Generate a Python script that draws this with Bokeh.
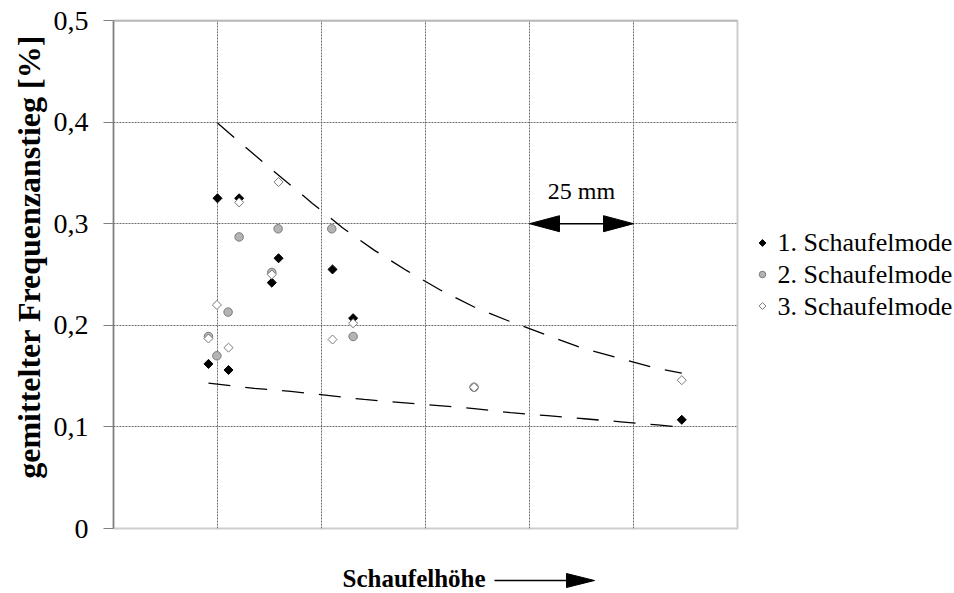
from bokeh.plotting import figure
from bokeh.layouts import row, column
from bokeh.models import Range1d, FixedTicker, Span
from bokeh.core.properties import value
from bokeh.embed import file_html
from bokeh.resources import INLINE
import math

# ---------------- data ----------------
mode1_x = [0.913, 1.000, 1.106, 1.208, 1.522, 1.587, 2.106, 2.304, 5.464]
mode1_y = [0.162, 0.325, 0.156, 0.325, 0.242, 0.266, 0.255, 0.207, 0.107]

mode2_x = [0.913, 0.994, 1.102, 1.208, 1.522, 1.583, 2.099, 2.304, 3.467]
mode2_y = [0.189, 0.170, 0.213, 0.287, 0.252, 0.295, 0.295, 0.189, 0.139]

mode3_x = [0.913, 0.994, 1.106, 1.208, 1.522, 1.587, 2.106, 2.304, 3.467, 5.464]
mode3_y = [0.187, 0.220, 0.178, 0.321, 0.250, 0.341, 0.186, 0.202, 0.139, 0.146]

upper_x = [1.000, 1.352, 1.631, 1.913, 2.202, 2.506, 2.817, 3.138, 3.468, 3.806,
           4.150, 4.493, 4.846, 5.208, 5.464]
upper_y = [0.399, 0.368, 0.344, 0.320, 0.296, 0.274, 0.254, 0.235, 0.218, 0.204,
           0.191, 0.178, 0.168, 0.158, 0.153]

lower_x = [0.913, 1.352, 1.705, 2.058, 2.410, 3.467, 3.820, 4.173, 4.526, 4.878,
           5.231, 5.481]
lower_y = [0.143, 0.138, 0.135, 0.131, 0.127, 0.118, 0.114, 0.111, 0.108, 0.105,
           0.102, 0.0995]

series_names = ["1. Schaufelmode", "2. Schaufelmode", "3. Schaufelmode"]
ytick_values = [0, 0.1, 0.2, 0.3, 0.4, 0.5]
ytick_labels = ["0", "0,1", "0,2", "0,3", "0,4", "0,5"]
xgrid_values = [1, 2, 3, 4, 5]
ygrid_values = [0.1, 0.2, 0.3, 0.4]

y_title = "gemittelter Frequenzanstieg [%]"
x_title = "Schaufelhöhe"
dim_text = "25 mm"

FONT = "Liberation Serif"
XPX = 104.0      # pixels per x unit
YPX = 1015.4     # pixels per y unit

# layout sizes (pixels)
W_TOTAL, H_TOTAL = 954, 593
W_LEFT = 50          # y-title strip
H_MAIN = 548         # main row height
W_MAIN = 689         # main plot figure
W_LEG = W_TOTAL - W_LEFT - W_MAIN
H_BOTTOM = H_TOTAL - H_MAIN
LEG_X0 = W_LEFT + W_MAIN   # page x where the legend strip starts


def blank(width, height, xr, yr):
    f = figure(width=width, height=height, output_backend="svg", toolbar_location=None,
               x_range=Range1d(*xr), y_range=Range1d(*yr),
               min_border_left=0, min_border_right=0, min_border_top=0, min_border_bottom=0)
    f.axis.visible = False
    f.grid.visible = False
    f.outline_line_color = None
    return f


# ---------------- main plot ----------------
p = figure(width=W_MAIN, height=H_MAIN, output_backend="svg", toolbar_location=None,
           x_range=Range1d(0, 6), y_range=Range1d(0, 0.5),
           min_border_left=113 - W_LEFT, min_border_right=2,
           min_border_top=20, min_border_bottom=H_MAIN - 528)
p.outline_line_color = "#cdcdcd"
p.outline_line_width = 2

p.yaxis.ticker = FixedTicker(ticks=ytick_values)
p.yaxis.major_label_overrides = {v: s for v, s in zip(ytick_values, ytick_labels)}
p.yaxis.axis_line_color = "#808080"
p.yaxis.axis_line_width = 1.5
p.yaxis.major_tick_line_color = "#808080"
p.yaxis.major_tick_out = 10
p.yaxis.major_tick_in = 0
p.yaxis.minor_tick_line_color = None
p.yaxis.major_label_text_font = FONT
p.yaxis.major_label_text_font_size = "28px"
p.yaxis.major_label_text_color = "black"
p.yaxis.major_label_standoff = 15
p.xaxis.visible = False

p.xgrid.ticker = FixedTicker(ticks=xgrid_values)
p.ygrid.ticker = FixedTicker(ticks=ygrid_values)
for g in (p.xgrid, p.ygrid):
    g.grid_line_color = "#6e6e6e"
    g.grid_line_dash = "2 1"
    g.grid_line_width = 1

p.add_layout(Span(location=0.5, dimension="width", line_color="#a8a8a8", line_width=2))

# trend lines
p.line(upper_x, upper_y, line_color="black", line_width=1.3, line_dash="22 15")
p.line(lower_x, lower_y, line_color="black", line_width=1.3, line_dash="22 15")

# series
marker_styles = [
    dict(marker="square", angle=math.pi / 4, fill_color="black",
         line_color="black", line_width=1),
    dict(marker="circle", fill_color="#b4b4b4", line_color="#7a7a7a",
         line_width=1),
    dict(marker="square", angle=math.pi / 4, fill_color="white",
         line_color="#7a7a7a", line_width=1),
]
plot_sizes = [6.4, 8.5, 6.4]
legend_sizes = [4.8, 6.5, 4.8]
p.scatter(mode1_x, mode1_y, size=plot_sizes[0], **marker_styles[0])
p.scatter(mode2_x, mode2_y, size=plot_sizes[1], **marker_styles[1])
p.scatter(mode3_x, mode3_y, size=plot_sizes[2], **marker_styles[2])

# 25 mm dimension arrow between gridlines 4 and 5
ya = 0.3
hl = 30 / XPX
hh = 8 / YPX
p.segment(x0=[4 + hl], y0=[ya], x1=[5 - hl], y1=[ya], line_color="black", line_width=1.5)
p.patches(xs=[[4, 4 + hl, 4 + hl], [5, 5 - hl, 5 - hl]],
          ys=[[ya, ya + hh, ya - hh], [ya, ya + hh, ya - hh]],
          fill_color="black", line_color="black")
p.text(x=[4.5], y=[0.3326], text=[dim_text], text_align="center", text_baseline="middle",
       text_font=value(FONT), text_font_size="24px", text_color="black")

# ---------------- y-title strip ----------------
pl = blank(W_LEFT, H_MAIN, (0, W_LEFT), (0, H_MAIN))
pl.text(x=[28], y=[H_MAIN - 255], text=[y_title], angle=math.pi / 2,
        text_align="center", text_baseline="middle", text_font=value(FONT),
        text_font_style="bold", text_font_size="32px", text_color="black")

# ---------------- legend strip (key drawn in pixel space) ----------------
pr = blank(W_LEG, H_MAIN, (0, W_LEG), (0, H_MAIN))
leg_rows_page_y = [240, 274, 308]
for name, st, sz, py in zip(series_names, marker_styles, legend_sizes, leg_rows_page_y):
    pr.scatter(x=[762 - LEG_X0], y=[H_MAIN - py], size=sz, **st)
    pr.text(x=[777 - LEG_X0], y=[H_MAIN - py], text=[name], text_align="left",
            text_baseline="middle", text_font=value(FONT), text_font_size="26px",
            text_color="black")

# ---------------- x-title strip ----------------
pb = blank(W_TOTAL, H_BOTTOM, (0, W_TOTAL), (0, H_BOTTOM))
pb.text(x=[342], y=[H_TOTAL - 578], text=[x_title], text_align="left",
        text_baseline="middle", text_font=value(FONT), text_font_style="bold",
        text_font_size="25px", text_color="black")
ay = H_TOTAL - 580
pb.segment(x0=[494], y0=[ay], x1=[566], y1=[ay], line_color="black", line_width=1.5)
pb.patches(xs=[[566, 566, 594]], ys=[[ay + 7, ay - 7, ay]], fill_color="black",
           line_color="black")

layout = column(row(pl, p, pr, spacing=0), pb, spacing=0)
open("out.html", "w").write(file_html(layout, INLINE))
